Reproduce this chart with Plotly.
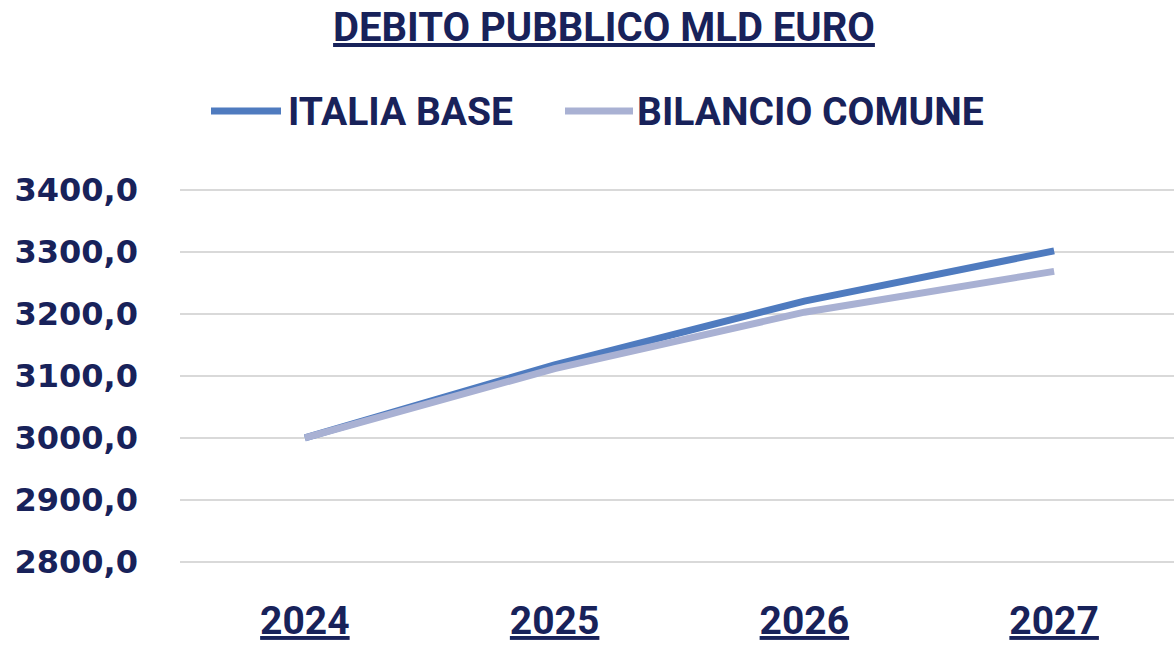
import plotly.graph_objects as go

# Public debt projections, billions of euro
anni = ["2024", "2025", "2026", "2027"]
italia_base = [3000.0, 3118.0, 3221.0, 3302.0]
bilancio_comune = [3000.0, 3112.0, 3203.0, 3269.0]
nomi_serie = ["ITALIA BASE", "BILANCIO COMUNE"]
colori_serie = ["#4f7bbf", "#a9b1d3"]
tick_y = [2800, 2900, 3000, 3100, 3200, 3300, 3400]

W, H = 1174, 646
L, R, T, B = 180, 0, 184, 78
NAVY = "#18225a"

def px_to_paper_x(px):
    return (px - L) / (W - L - R)

def px_to_paper_y(py):
    return (H - B - py) / (H - T - B)

fig = go.Figure()
for nome, valori, colore in zip(nomi_serie, [italia_base, bilancio_comune], colori_serie):
    fig.add_trace(go.Scatter(
        x=anni, y=valori, name=nome, mode="lines",
        line=dict(color=colore, width=7),
        showlegend=False,
    ))

# custom legend: line sample + label
legend_items = [
    (nomi_serie[0], colori_serie[0], 211, 281, 286),
    (nomi_serie[1], colori_serie[1], 565, 633, 635),
]
shapes = []
annotations = []
for nome, colore, x0, x1, xt in legend_items:
    shapes.append(dict(
        type="line", xref="paper", yref="paper",
        x0=px_to_paper_x(x0), x1=px_to_paper_x(x1),
        y0=px_to_paper_y(111), y1=px_to_paper_y(111),
        line=dict(color=colore, width=7),
    ))
    annotations.append(dict(
        text=nome, xref="paper", yref="paper",
        x=px_to_paper_x(xt), y=px_to_paper_y(112),
        xanchor="left", yanchor="middle", showarrow=False,
        font=dict(family="Roboto", size=39, color=NAVY, weight="bold"),
    ))

fig.update_layout(
    width=W, height=H,
    margin=dict(l=L, r=R, t=T, b=B, autoexpand=False),
    paper_bgcolor="white", plot_bgcolor="white",
    separators=",.",
    title=dict(
        text="DEBITO PUBBLICO MLD EURO",
        x=604 / W, xanchor="center",
        y=1 - 27 / H, yanchor="middle",
        font=dict(family="Roboto", size=40, color=NAVY, weight="bold",
                  lineposition="under"),
    ),
    shapes=shapes,
    annotations=annotations,
    xaxis=dict(
        type="category",
        range=[-0.5, 3.48],
        showgrid=False, zeroline=False, showline=False,
        ticks="",
        automargin=False,
        ticklabelstandoff=26,
        tickfont=dict(family="Roboto", size=39, color=NAVY, weight="bold",
                      lineposition="under"),
    ),
    yaxis=dict(
        range=[2790, 3410],
        tickvals=tick_y,
        tickformat=".1f",
        showgrid=True, gridcolor="#d9d9d9", gridwidth=2,
        zeroline=False, showline=False,
        ticks="",
        automargin=False,
        ticklabelstandoff=41,
        tickfont=dict(family="DejaVu Sans", size=32, color=NAVY, weight="bold"),
    ),
)

fig.write_html("out.html")
